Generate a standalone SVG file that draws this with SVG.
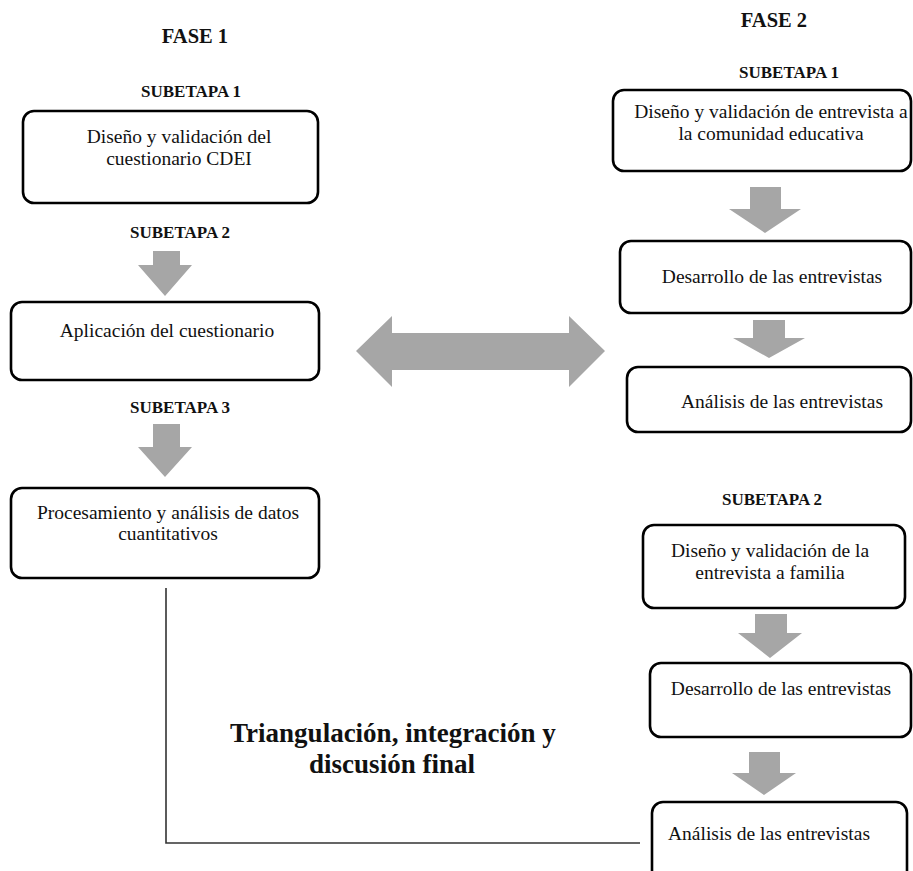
<svg xmlns="http://www.w3.org/2000/svg" width="913" height="871" viewBox="0 0 913 871">
<style>
.box{fill:#fff;stroke:#000;stroke-width:2.6}
.t{font-family:"Liberation Serif","Times New Roman",serif;font-size:19.5px;fill:#111;text-anchor:middle}
.h{font-family:"Liberation Serif","Times New Roman",serif;font-weight:bold;font-size:17px;fill:#111;text-anchor:middle}
.f{font-family:"Liberation Serif","Times New Roman",serif;font-weight:bold;font-size:20.5px;fill:#111;text-anchor:middle}
.big{font-family:"Liberation Serif","Times New Roman",serif;font-weight:bold;font-size:27px;fill:#111;text-anchor:middle}
.arr{fill:#a6a6a6;stroke:none}
.ln{fill:none;stroke:#333;stroke-width:1.6}
</style>
<rect width="913" height="871" fill="#fff"/>

<g id="headings">
<text class="f" x="195" y="43">FASE 1</text>
<text class="f" x="774" y="27">FASE 2</text>
<text class="h" x="191" y="97">SUBETAPA 1</text>
<text class="h" x="180" y="238">SUBETAPA 2</text>
<text class="h" x="180" y="413">SUBETAPA 3</text>
<text class="h" x="789" y="78">SUBETAPA 1</text>
<text class="h" x="772" y="505">SUBETAPA 2</text>
</g>

<g id="connectors">
<polygon class="arr" points="153,251 180,251 180,265 192,265 165,296 138,265 153,265"/>
<polygon class="arr" points="153,424 180,424 180,447 192,447 165,477 138,447 153,447"/>
<polygon class="arr" points="750,187 781,187 781,209 801,209 765,233 729,209 750,209"/>
<polygon class="arr" points="753,320 785,320 785,338 805,338 769,358 733,338 753,338"/>
<polygon class="arr" points="755,614 787,614 787,633 802,633 770,658 738,633 755,633"/>
<polygon class="arr" points="749,752 780,752 780,773 796,773 764,795 732,773 749,773"/>
<polygon class="arr" points="356,351 392,316 392,333 569,333 569,316 605,351 569,387 569,370 392,370 392,387"/>
<polyline class="ln" points="166,588 166,843 640,843"/>
</g>

<g id="n1">
<rect class="box" x="23" y="111" width="295" height="92" rx="11"/>
<text class="t" x="179" y="143">Diseño y validación del</text>
<text class="t" x="179" y="165">cuestionario CDEI</text>
</g>
<g id="n2">
<rect class="box" x="11" y="302" width="308" height="78" rx="11"/>
<text class="t" x="167" y="337">Aplicación del cuestionario</text>
</g>
<g id="n3">
<rect class="box" x="11" y="488" width="308" height="90" rx="11"/>
<text class="t" x="168" y="519">Procesamiento y análisis de datos</text>
<text class="t" x="168" y="540">cuantitativos</text>
</g>

<g id="r1">
<rect class="box" x="613" y="90" width="298" height="81" rx="11"/>
<text class="t" x="771" y="118">Diseño y validación de entrevista a</text>
<text class="t" x="771" y="140">la comunidad educativa</text>
</g>
<g id="r2">
<rect class="box" x="620" y="241" width="291" height="72" rx="11"/>
<text class="t" x="772" y="283">Desarrollo de las entrevistas</text>
</g>
<g id="r3">
<rect class="box" x="627" y="367" width="284" height="65" rx="11"/>
<text class="t" x="782" y="408">Análisis de las entrevistas</text>
</g>
<g id="r4">
<rect class="box" x="643" y="525" width="262" height="83" rx="11"/>
<text class="t" x="770" y="557">Diseño y validación de la</text>
<text class="t" x="770" y="579">entrevista a familia</text>
</g>
<g id="r5">
<rect class="box" x="650" y="663" width="261" height="74" rx="11"/>
<text class="t" x="781" y="695">Desarrollo de las entrevistas</text>
</g>
<g id="r6">
<rect class="box" x="652" y="802" width="255" height="80" rx="11"/>
<text class="t" x="769" y="840">Análisis de las entrevistas</text>
</g>

<g id="final">
<text class="big" x="393" y="742">Triangulación, integración y</text>
<text class="big" x="392" y="773">discusión final</text>
</g>
</svg>
